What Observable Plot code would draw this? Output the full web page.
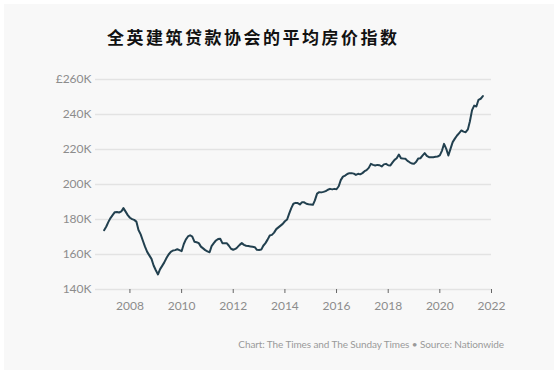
<!DOCTYPE html>
<html>
<head>
<meta charset="utf-8">
<script src="https://cdn.jsdelivr.net/npm/d3@7"></script>
<script src="https://cdn.jsdelivr.net/npm/@observablehq/plot@0.6"></script>
<style>
  html, body { margin: 0; padding: 0; background: #ffffff; }
  #panel { position: absolute; left: 4px; top: 4px; width: 550px; height: 366px; background: #f8f8f8; overflow: hidden; }
  #title { position: absolute; left: 103px; top: 20px; font-family: "Noto Sans CJK SC", sans-serif; font-weight: 700; font-size: 17px; letter-spacing: 2.5px; color: #111; white-space: nowrap; }
  #chart { position: absolute; left: 0; top: 57px; }
  #caption { position: absolute; right: 50px; top: 334px; font-family: Lato, "Open Sans", sans-serif; font-size: 10px; letter-spacing: -0.1px; color: #9a9a9a; white-space: nowrap; }
</style>
</head>
<body>
<div id="panel">
  <div id="title">全英建筑贷款协会的平均房价指数</div>
  <div id="chart"></div>
  <div id="caption">Chart: The Times and The Sunday Times • Source: Nationwide</div>
</div>
<script>
// Nationwide average house price, monthly, £ thousands, starting January 2007
const startMonth = "2007-01-01";
const prices = [
  // 2007
  173.9, 176.0, 178.5, 180.8, 182.5, 184.2, 184.3, 184.0, 184.6, 186.5, 184.5, 182.5,
  // 2008
  181.0, 180.2, 179.8, 178.8, 174.0, 171.5, 168.0, 164.5, 161.5, 159.5, 157.5, 153.7,
  // 2009
  151.0, 148.6, 151.5, 153.5, 155.5, 158.0, 160.0, 161.5, 162.3, 162.5, 163.0, 162.5,
  // 2010
  161.9, 166.0, 168.5, 170.3, 171.0, 170.2, 167.3, 167.0, 166.5, 164.5, 163.5, 162.5,
  // 2011
  161.8, 161.3, 164.8, 166.5, 168.0, 168.8, 169.0, 166.5, 166.5, 166.5, 165.0, 163.3,
  // 2012
  162.7, 163.2, 164.2, 165.5, 166.5, 165.5, 165.0, 164.8, 164.6, 164.4, 164.2, 162.7,
  // 2013
  162.6, 162.8, 165.0, 166.5, 168.5, 170.9, 171.2, 172.5, 174.5, 175.5, 176.5, 177.5,
  // 2014
  179.0, 180.0, 183.2, 186.5, 189.0, 189.5, 189.4, 188.6, 189.9, 189.8, 189.0, 188.7,
  // 2015
  188.6, 188.4, 190.9, 194.8, 195.6, 195.5, 195.8, 196.2, 197.0, 197.5, 197.2, 197.5,
  // 2016
  197.3, 199.0, 202.5, 204.5, 205.1, 206.0, 206.5, 206.5, 206.2, 205.5, 206.1, 205.8,
  // 2017
  206.5, 207.6, 208.2, 209.5, 211.8, 211.2, 210.9, 211.2, 211.0, 210.3, 211.5, 211.8,
  // 2018
  211.0, 210.9, 212.5, 214.1, 215.0, 217.1, 215.0, 214.8, 214.7, 213.5, 212.7, 212.0,
  // 2019
  211.8, 213.0, 214.8, 215.0, 216.5, 217.9, 216.3, 215.6, 215.6, 215.6, 215.8, 216.0,
  // 2020
  216.6, 219.4, 223.2, 220.4, 216.6, 220.5, 224.2, 226.2, 228.0, 229.4, 230.9, 230.2,
  // 2021
  229.9, 231.5, 236.0, 242.5, 245.1, 244.6, 248.4, 249.0, 250.5
];
const yTicks = [140, 160, 180, 200, 220, 240, 260];
const xTickYears = [2008, 2010, 2012, 2014, 2016, 2018, 2020, 2022];

const start = new Date(startMonth);
const data = prices.map((v, i) => ({ date: d3.utcMonth.offset(start, i), value: v }));
const yFmt = d => (d === 260 ? "£" : "") + d + "K";
const xTicks = xTickYears.map(y => new Date(Date.UTC(y, 0, 1)));

const chart = Plot.plot({
  width: 550,
  height: 254,
  marginLeft: 91,
  marginRight: 63,
  marginTop: 18,
  marginBottom: 26,
  style: { background: "transparent", fontFamily: "Lato, 'Open Sans', sans-serif", fontSize: "12px", color: "#8c8c8c" },
  x: {
    type: "utc",
    domain: [new Date("2006-09-01"), new Date("2022-01-01")],
    label: null
  },
  y: {
    domain: [140, 260],
    label: null
  },
  marks: [
    Plot.gridY(yTicks, { stroke: "#e3e3e3", strokeOpacity: 1, strokeWidth: 1.5 }),
    Plot.axisY(yTicks, { tickSize: 0, tickPadding: 4, fill: "#8c8c8c", fontSize: 12, tickFormat: yFmt, label: null }),
    Plot.axisX(xTicks, { tickFormat: d3.utcFormat("%Y"), tickSize: 4, tickPadding: 8, stroke: "#666", fill: "#8c8c8c", fontSize: 12, label: null }),
    Plot.lineY(data, { x: "date", y: "value", stroke: "#22404f", strokeWidth: 2 })
  ]
});
document.getElementById("chart").appendChild(chart);
</script>
</body>
</html>
